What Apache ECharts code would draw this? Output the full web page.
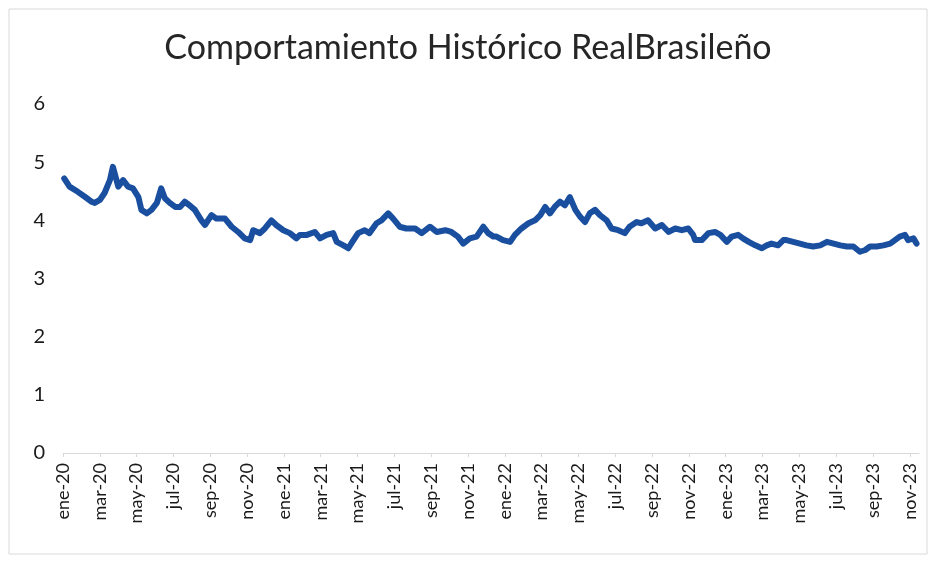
<!DOCTYPE html>
<html>
<head>
<meta charset="utf-8">
<script src="https://cdn.jsdelivr.net/npm/echarts@6/dist/echarts.min.js"></script>
<style>
  html, body { margin: 0; background: #fff; }
  #chart { width: 936px; height: 563px; }
</style>
</head>
<body>
<div id="chart"></div>
<script>
// fechas y valores
var dates = [
  '2020-01-03','2020-01-12','2020-01-26','2020-02-07','2020-02-17','2020-02-22','2020-03-01','2020-03-09','2020-03-18','2020-03-23',
  '2020-03-26','2020-04-01','2020-04-09','2020-04-17','2020-04-25','2020-05-04','2020-05-09','2020-05-18','2020-05-26','2020-06-04',
  '2020-06-11','2020-06-17','2020-06-25','2020-07-04','2020-07-12','2020-07-20','2020-07-28','2020-08-06','2020-08-17','2020-08-23',
  '2020-09-03','2020-09-11','2020-09-25','2020-10-06','2020-10-17','2020-10-28','2020-11-06','2020-11-11','2020-11-22','2020-11-30',
  '2020-12-11','2020-12-19','2020-12-31','2021-01-11','2021-01-22','2021-01-28','2021-02-08','2021-02-20','2021-02-28','2021-03-11',
  '2021-03-22','2021-03-28','2021-04-08','2021-04-16','2021-04-22','2021-05-02','2021-05-13','2021-05-21','2021-06-02','2021-06-10',
  '2021-06-21','2021-06-29','2021-07-10','2021-07-21','2021-08-05','2021-08-16','2021-08-30','2021-09-10','2021-09-24','2021-10-04',
  '2021-10-15','2021-10-24','2021-11-04','2021-11-15','2021-11-26','2021-12-04','2021-12-13','2021-12-18','2021-12-29','2022-01-10',
  '2022-01-18','2022-01-29','2022-02-09','2022-02-19','2022-02-27','2022-03-07','2022-03-15','2022-03-23','2022-04-01','2022-04-09',
  '2022-04-17','2022-04-26','2022-05-04','2022-05-12','2022-05-20','2022-05-29','2022-06-06','2022-06-17','2022-06-25','2022-07-06',
  '2022-07-17','2022-07-25','2022-08-06','2022-08-14','2022-08-25','2022-09-06','2022-09-17','2022-09-28','2022-10-09','2022-10-20',
  '2022-10-31','2022-11-08','2022-11-11','2022-11-22','2022-12-03','2022-12-14','2022-12-23','2023-01-03','2023-01-11','2023-01-22',
  '2023-01-30','2023-02-08','2023-02-18','2023-02-28','2023-03-08','2023-03-16','2023-03-27','2023-04-05','2023-04-10','2023-04-21',
  '2023-05-02','2023-05-13','2023-05-24','2023-06-05','2023-06-16','2023-06-27','2023-07-08','2023-07-19','2023-07-30','2023-08-10',
  '2023-08-19','2023-08-27','2023-09-07','2023-09-18','2023-09-29','2023-10-07','2023-10-15','2023-10-24','2023-10-29','2023-11-07',
  '2023-11-12'
];
var values = [
  4.72,4.58,4.49,4.40,4.32,4.30,4.35,4.47,4.69,4.92,
  4.81,4.58,4.69,4.58,4.55,4.40,4.18,4.12,4.18,4.30,
  4.55,4.38,4.30,4.23,4.23,4.32,4.26,4.18,4.00,3.92,
  4.09,4.03,4.03,3.89,3.80,3.69,3.66,3.83,3.78,3.86,
  4.00,3.92,3.83,3.78,3.69,3.75,3.75,3.80,3.69,3.75,
  3.78,3.63,3.57,3.52,3.62,3.78,3.83,3.78,3.95,4.00,
  4.12,4.03,3.89,3.86,3.86,3.78,3.89,3.80,3.83,3.80,
  3.72,3.60,3.69,3.72,3.89,3.78,3.72,3.72,3.66,3.63,
  3.75,3.86,3.95,4.00,4.09,4.23,4.12,4.23,4.32,4.26,
  4.40,4.18,4.06,3.97,4.12,4.18,4.09,4.00,3.86,3.83,
  3.78,3.89,3.97,3.95,4.00,3.86,3.92,3.80,3.86,3.83,
  3.86,3.75,3.66,3.66,3.78,3.80,3.75,3.63,3.72,3.75,
  3.69,3.63,3.57,3.52,3.57,3.60,3.57,3.66,3.66,3.63,
  3.60,3.57,3.55,3.57,3.63,3.60,3.57,3.55,3.55,3.46,
  3.49,3.55,3.55,3.57,3.60,3.66,3.72,3.75,3.66,3.69,
  3.60
];
var monthNames = ['ene','feb','mar','abr','may','jun','jul','ago','sep','oct','nov','dic'];
var yearStart = 2020;

// meses desde ene-20 (con fracción del día)
function monthIndex(s) {
  var p = s.split('-').map(Number);
  var dim = new Date(p[0], p[1], 0).getDate();
  return (p[0] - yearStart) * 12 + (p[1] - 1) + (p[2] - 1) / dim;
}

var seriesData = dates.map(function (d, i) { return [monthIndex(d), values[i]]; });

var myChart = echarts.init(document.getElementById('chart'));
var option = {
  backgroundColor: '#fff',
  animation: false,
  title: {
    text: 'Comportamiento Histórico RealBrasileño',
    left: 'center',
    top: 26,
    textStyle: { fontFamily: 'Lato', fontSize: 34, fontWeight: 'normal', color: '#262626' }
  },
  graphic: [{
    type: 'rect',
    shape: { x: 9, y: 9, width: 918, height: 545 },
    style: { fill: 'none', stroke: '#d9d9d9', lineWidth: 1 },
    silent: true
  }],
  grid: { left: 63, right: 17, top: 104, bottom: 110 },
  xAxis: {
    type: 'value',
    min: 0,
    max: 46.5,
    interval: 2,
    splitLine: { show: false },
    axisLine: { lineStyle: { color: '#d9d9d9' } },
    axisTick: { show: true, length: 4, lineStyle: { color: '#d9d9d9' } },
    axisLabel: {
      rotate: 90,
      margin: 10,
      fontFamily: 'Lato',
      fontSize: 18,
      color: '#1a1a1a',
      showMaxLabel: false,
      formatter: function (v) {
        if (v % 2 !== 0) return '';
        var y = yearStart + Math.floor(v / 12);
        return monthNames[v % 12] + '-' + String(y).slice(2);
      }
    }
  },
  yAxis: {
    type: 'value',
    min: 0,
    max: 6,
    interval: 1,
    splitLine: { show: false },
    axisLine: { show: false },
    axisTick: { show: false },
    axisLabel: { margin: 18, fontFamily: 'Lato', fontSize: 20, color: '#1a1a1a' }
  },
  series: [{
    type: 'line',
    data: seriesData,
    showSymbol: false,
    smooth: false,
    lineStyle: { color: '#1a4f9f', width: 6, join: 'round', cap: 'round' }
  }]
};
option && myChart.setOption(option);
</script>
</body>
</html>
